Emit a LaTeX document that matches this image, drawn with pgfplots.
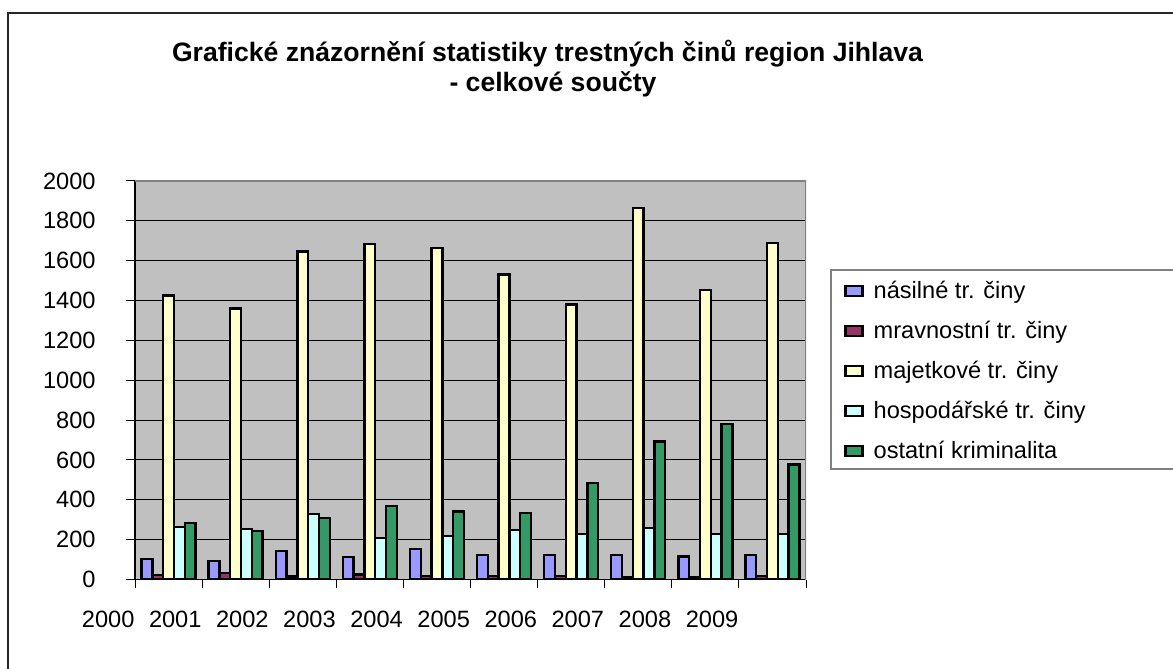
\documentclass[border=0pt]{standalone}
\usepackage{pgfplots}
\pgfplotsset{compat=1.18}
\usepackage{fontspec}
\setmainfont{Liberation Sans}
\definecolor{cNas}{HTML}{9999FF}
\definecolor{cMrav}{HTML}{993366}
\definecolor{cMaj}{HTML}{FFFFCC}
\definecolor{cHosp}{HTML}{CCFFFF}
\definecolor{cOst}{HTML}{339966}
\definecolor{plotgray}{HTML}{C0C0C0}
\definecolor{bordergray}{HTML}{808080}
\begin{document}
\fontsize{11.8bp}{14bp}\selectfont
\begin{tikzpicture}
\useasboundingbox (0,0) rectangle (586.5bp,334.5bp);
\fill[white] (0,0) rectangle (586.5bp,334.5bp);
\draw[line width=1bp, black!85] (4bp,-5bp) -- (4bp,328bp) -- (600bp,328bp);
\draw[bordergray, fill=white, line width=0.6bp] (415.5bp,100bp) rectangle (600bp,199.5bp);
\node[anchor=base, inner sep=0pt, font=\fontsize{13.3bp}{15bp}\selectfont\bfseries] at (273.75bp,303.75bp) {Grafické znázornění statistiky trestných činů region Jihlava};
\node[anchor=base, inner sep=0pt, font=\fontsize{13.3bp}{15bp}\selectfont\bfseries] at (276.5bp,288.5bp) {- celkové součty};
\begin{axis}[
  at={(67.5bp,44.75bp)}, anchor=south west,
  scale only axis, width=335.5bp, height=199.25bp,
  xmin=-0.5, xmax=9.5, ymin=0, ymax=2000, enlargelimits=false,
  ybar=0pt, bar width=5.4bp,
  axis lines=left, axis line style={-, black, line width=0.6bp},
  axis background/.style={fill=plotgray},
  ytick={0,200,400,600,800,1000,1200,1400,1600,1800,2000},
  ymajorgrids, grid style={black, line width=0.5bp},
  xtick={-0.5,0.5,1.5,2.5,3.5,4.5,5.5,6.5,7.5,8.5,9.5}, xticklabels={},
  extra x ticks={0,1,2,3,4,5,6,7,8,9},
  extra x tick labels={2000,2001,2002,2003,2004,2005,2006,2007,2008,2009},
  extra x tick style={major tick length=0pt, grid=none,
    xticklabel style={anchor=center, inner sep=0pt, yshift=-19.85bp, xshift=-30.2bp}},
  tick align=outside, major tick length=4.5bp,
  tick style={black, line width=0.5bp},
  /pgf/number format/assume math mode=true, /pgf/number format/1000 sep={},
  yticklabel style={anchor=east, inner sep=0pt, xshift=-15bp},
  legend cell align=left,
  legend style={at={(1.0373,0.7767)}, anchor=north west, draw=none, fill=none,
    inner xsep=6.5bp, inner ysep=5.5bp, row sep=9bp, column sep=5bp,
    nodes={inner sep=0pt, text height=8.5bp, text depth=2.5bp}},
  mybar/.style={draw=black, line width=1.2bp,
    legend image code/.code={\draw[##1, draw=black, line width=1.1bp] (0bp,-2bp) rectangle (8.5bp,3bp);}},
]
\addplot[mybar, fill=cNas] coordinates {(0,102) (1,92) (2,142) (3,113) (4,152) (5,123) (6,123) (7,123) (8,115) (9,123)};
\addlegendentry{násilné tr. činy}
\addplot[mybar, fill=cMrav] coordinates {(0,23) (1,32) (2,15) (3,25) (4,18) (5,17) (6,18) (7,10) (8,10) (9,18)};
\addlegendentry{mravnostní tr. činy}
\addplot[mybar, fill=cMaj] coordinates {(0,1425) (1,1361) (2,1647) (3,1684) (4,1664) (5,1530) (6,1380) (7,1863) (8,1453) (9,1690)};
\addlegendentry{majetkové tr. činy}
\addplot[mybar, fill=cHosp] coordinates {(0,264) (1,252) (2,329) (3,207) (4,217) (5,247) (6,227) (7,257) (8,227) (9,227)};
\addlegendentry{hospodářské tr. činy}
\addplot[mybar, fill=cOst] coordinates {(0,284) (1,244) (2,309) (3,370) (4,342) (5,333) (6,485) (7,693) (8,779) (9,578)};
\addlegendentry{ostatní kriminalita}
\draw[bordergray, line width=0.6bp] (rel axis cs:0,1) -- (rel axis cs:1,1) -- (rel axis cs:1,0);
\end{axis}
\end{tikzpicture}
\end{document}
